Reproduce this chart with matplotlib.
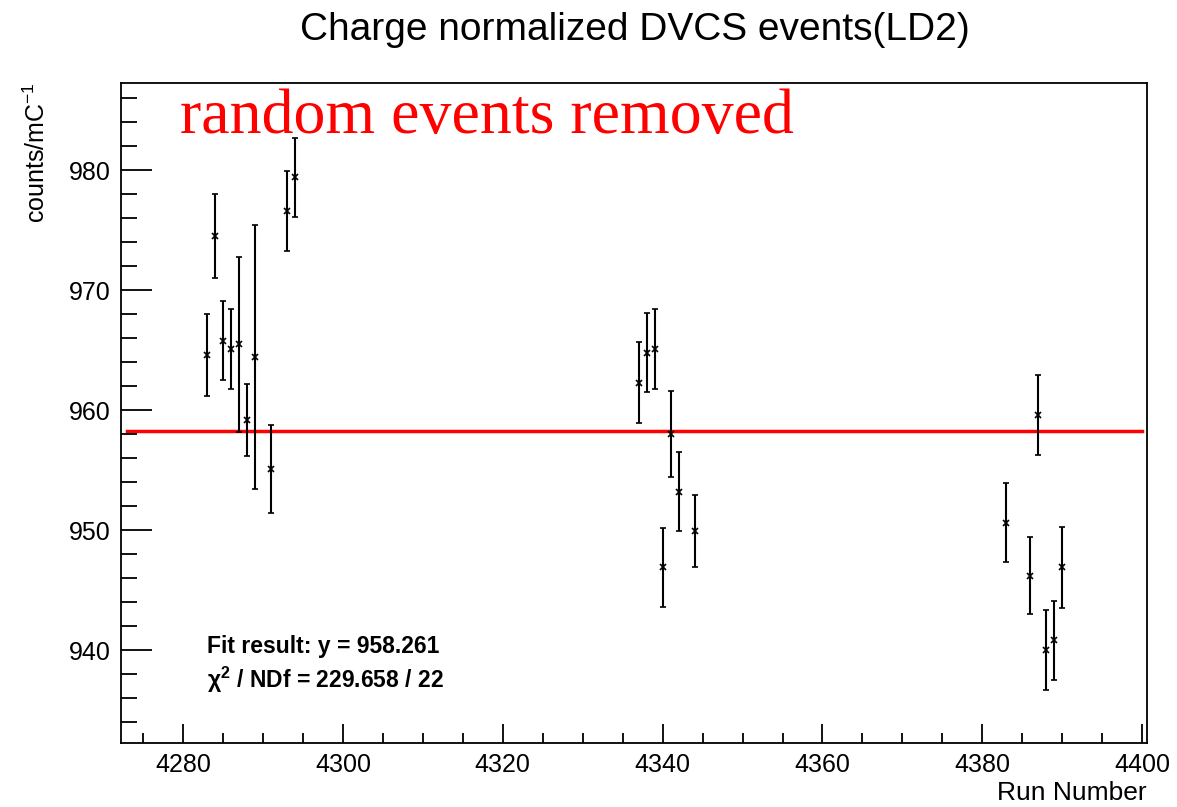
import matplotlib
matplotlib.use('Agg')
import matplotlib.pyplot as plt
import numpy as np

plt.rcParams['font.family'] = ['Liberation Sans', 'DejaVu Sans']

# run numbers, normalized counts and their errors
runs = [4283, 4284, 4285, 4286, 4287, 4288, 4289, 4291, 4293, 4294,
        4337, 4338, 4339, 4340, 4341, 4342, 4344,
        4383, 4386, 4387, 4388, 4389, 4390]
counts = [964.6, 974.5, 965.8, 965.1, 965.5, 959.2, 964.4, 955.1, 976.6, 979.4,
          962.3, 964.8, 965.1, 946.9, 958.0, 953.2, 949.9,
          950.6, 946.2, 959.6, 940.0, 940.8, 946.9]
errors = [3.4, 3.5, 3.3, 3.3, 7.3, 3.0, 11.0, 3.7, 3.3, 3.3,
          3.4, 3.3, 3.3, 3.3, 3.6, 3.3, 3.0,
          3.3, 3.2, 3.3, 3.3, 3.3, 3.4]

fit_value = 958.261
fit_range = (4273, 4400)
fit_text = ['Fit result: y = 958.261', 'χ$^{\\mathbf{2}}$ / NDf = 229.658 / 22']

fig = plt.figure(figsize=(11.77, 8.07), dpi=100)
ax = fig.add_axes([0.1026, 0.0793, 0.8719, 0.8182])

ax.errorbar(runs, counts, yerr=errors, fmt='x', color='black', ms=4.5, mew=1.2,
            elinewidth=1.5, capsize=2.5, capthick=1.5)
ax.plot(fit_range, [fit_value, fit_value], color='red', lw=2.5, zorder=1)

ax.set_xlim(4272.2, 4400.6)
ax.set_ylim(932.25, 987.3)
ax.xaxis.set_major_locator(plt.MultipleLocator(20))
ax.xaxis.set_minor_locator(plt.MultipleLocator(5))
ax.yaxis.set_major_locator(plt.MultipleLocator(10))
ax.yaxis.set_minor_locator(plt.MultipleLocator(2))
ax.tick_params(axis='x', which='major', direction='in', length=14, width=1.3,
               labelsize=18, pad=7)
ax.tick_params(axis='x', which='minor', direction='in', length=7, width=1.3)
ax.tick_params(axis='y', which='major', direction='in', length=22, width=1.3,
               labelsize=18, pad=7)
ax.tick_params(axis='y', which='minor', direction='in', length=11.5, width=1.3)
for s in ax.spines.values():
    s.set_linewidth(1.3)

fig.text(0.539, 1 - 30 / 807, 'Charge normalized DVCS events(LD2)',
         ha='center', va='center', fontsize=28)
fig.text(1147 / 1177, 1 - 793 / 807, 'Run Number', ha='right', va='center',
         fontsize=19)
fig.text(37 / 1177, 1 - 82 / 807, r'counts/mC$^{\mathregular{-1}}$', rotation=90,
         ha='center', va='top', fontsize=18)

fig.text(180 / 1177, 1 - 133 / 807, 'random events removed', color='red',
         family='Liberation Serif', fontsize=46, va='baseline', ha='left')

plt.rcParams['mathtext.fontset'] = 'custom'
plt.rcParams['mathtext.bf'] = 'Liberation Sans:bold'
fig.text(207 / 1177, 1 - 653 / 807, fit_text[0], fontsize=16.5,
         fontweight='bold', va='baseline')
fig.text(207 / 1177, 1 - 688 / 807, fit_text[1], fontsize=16.5,
         fontweight='bold', va='baseline')

fig.savefig('out.png', dpi=100)
